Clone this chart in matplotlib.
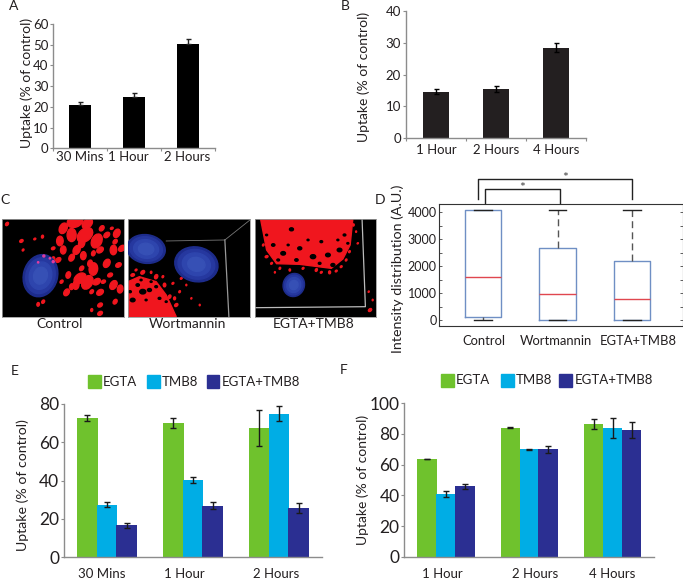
import matplotlib
matplotlib.use('Agg')
import matplotlib.pyplot as plt
from matplotlib.patches import Ellipse, Polygon, Rectangle
from matplotlib.transforms import ScaledTranslation

plt.rcParams['font.family'] = ['Lato', 'DejaVu Sans']

W, H = 683, 580
TXT = '#231f20'
AXC = '#8c8c8c'
GREEN, CYAN, NAVY = '#6fc22d', '#00ade5', '#2b2f92'

# panel A
a_labels = ['30 Mins', '1 Hour', '2 Hours']
a_vals = [20.8, 25, 50.3]
a_err = [1.5, 1.6, 2.4]

# panel B
b_labels = ['1 Hour', '2 Hours', '4 Hours']
b_vals = [14.7, 15.5, 28.4]
b_err = [0.7, 0.8, 1.4]

# panel D (box stats)
d_labels = ['Control', 'Wortmannin', 'EGTA+TMB8']
d_q1 = [110, 0, 0]
d_med = [1600, 970, 780]
d_q3 = [4100, 2660, 2180]
d_lo = [0, 0, 0]
d_hi = [4100, 4100, 4100]

# panel E
e_labels = ['30 Mins', '1 Hour', '2 Hours']
e_egta = [72.5, 70, 67.5]
e_tmb8 = [27.5, 40.3, 75]
e_both = [16.7, 26.8, 25.7]
e_egta_err = [1.6, 2.5, 9.5]
e_tmb8_err = [1.2, 1.6, 4]
e_both_err = [1.3, 1.8, 2.4]

# panel F
f_labels = ['1 Hour', '2 Hours', '4 Hours']
f_egta = [63.5, 84, 86.5]
f_tmb8 = [41, 70, 84]
f_both = [46, 70, 82.5]
f_egta_err = [0.1, 0.3, 3.5]
f_tmb8_err = [1.8, 0.5, 6.5]
f_both_err = [1.7, 2.2, 5]

# micrograph spots in panel C: x, y, radius
c1_spots = [(225, 110, 22), (262, 116, 16), (190, 130, 15), (215, 150, 18), (255, 150, 24), (290, 168, 20),
            (180, 168, 13), (320, 150, 9), (350, 145, 12), (340, 195, 13), (365, 190, 10), (230, 195, 13),
            (190, 195, 11), (175, 225, 8), (215, 218, 10), (250, 212, 11), (300, 195, 10), (320, 235, 12),
            (280, 252, 17), (240, 280, 18), (262, 292, 20), (228, 300, 12), (290, 290, 11), (340, 300, 13),
            (360, 312, 11), (300, 322, 10), (200, 322, 10), (215, 305, 8), (300, 360, 7), (345, 350, 7),
            (275, 375, 4), (300, 385, 7), (130, 350, 5), (115, 358, 5), (65, 168, 5), (70, 195, 3),
            (128, 155, 4), (105, 162, 3), (22, 117, 5), (160, 222, 6), (355, 240, 8), (305, 130, 8),
            (270, 235, 9), (330, 270, 7), (245, 250, 7), (205, 270, 9), (310, 290, 6), (275, 320, 6),
            (245, 175, 12), (160, 190, 5), (345, 170, 7), (280, 205, 7), (335, 130, 4), (185, 290, 5)]
c2_spots = [(400, 270, 5), (430, 262, 6), (470, 275, 6), (495, 300, 5), (520, 295, 3), (540, 320, 3),
            (560, 300, 2), (545, 280, 3), (575, 340, 2), (600, 360, 2), (530, 360, 5), (510, 335, 5),
            (455, 262, 3), (410, 255, 3), (490, 275, 3), (525, 340, 4)]
c2_holes = [(430, 320, 9), (450, 315, 6), (400, 345, 7), (480, 340, 4), (415, 300, 5), (470, 305, 4),
            (500, 350, 3), (440, 345, 3), (392, 320, 4), (455, 290, 3), (425, 285, 3)]
c3_spots = [(800, 215, 4), (815, 235, 3), (840, 250, 3), (870, 255, 3), (910, 250, 3), (950, 255, 4),
            (990, 262, 4), (1025, 245, 3), (1050, 200, 3), (1070, 140, 2), (1075, 175, 2), (1108, 320, 2),
            (1120, 345, 2), (1112, 375, 5), (790, 180, 3), (825, 262, 2), (965, 262, 3), (1040, 225, 3),
            (1062, 120, 3), (1010, 258, 3)]
c3_holes = [(875, 133, 6), (820, 180, 5), (850, 205, 7), (900, 190, 6), (940, 215, 8), (985, 210, 7),
            (1020, 195, 7), (965, 170, 4), (1035, 150, 4), (890, 225, 5), (1000, 240, 6), (800, 150, 3),
            (865, 180, 3), (925, 165, 3), (1045, 175, 3), (960, 235, 4), (835, 225, 4), (1015, 165, 3)]


def px_axes(left, top, right, bottom):
    return fig.add_axes([left / W, 1 - bottom / H, (right - left) / W, (bottom - top) / H])


def shift_labels(ax, offsets):
    for lab, dx in zip(ax.get_xticklabels(), offsets):
        lab.set_transform(lab.get_transform() + ScaledTranslation(dx / 100, 0, fig.dpi_scale_trans))


def style_excel(ax, n, labels, ymax, step, xsize, ysize, pad):
    ax.set_xlim(-0.5, n - 0.5)
    ax.set_ylim(0, ymax)
    ax.set_yticks(range(0, ymax + 1, step))
    ax.set_xticks(range(n))
    ax.set_xticklabels(labels, fontsize=xsize, color=TXT)
    ax.set_xticks([i - 0.5 for i in range(n + 1)], minor=True)
    ax.tick_params(axis='x', which='major', length=0, pad=pad)
    ax.tick_params(axis='x', which='minor', length=2, color=AXC, width=0.8)
    ax.tick_params(axis='y', length=2.5, color=AXC, width=0.8, labelsize=ysize, labelcolor=TXT, pad=1)
    for s in ['top', 'right']:
        ax.spines[s].set_visible(False)
    for s in ['left', 'bottom']:
        ax.spines[s].set_color(AXC)
        ax.spines[s].set_linewidth(1)


def ylabel(x, y, size):
    fig.text(x / W, 1 - y / H, 'Uptake (% of control)', rotation=90, ha='center', va='center',
             fontsize=size, color=TXT)


def grouped(ax, vals, errs, width):
    for k, (v, e, c) in enumerate(zip(vals, errs, [GREEN, CYAN, NAVY])):
        xs = [i + (k - 1) * width for i in range(len(v))]
        ax.bar(xs, v, width=width * 1.03, color=c, zorder=2)
        ax.errorbar(xs, v, yerr=e, fmt='none', ecolor='#1a1a1a', elinewidth=1, capsize=2.2, capthick=1, zorder=3)


def legend_row(items, y0, y1, size):
    for x0, x1, c, name in items:
        fig.patches.append(Rectangle((x0 / W, 1 - y1 / H), (x1 - x0) / W, (y1 - y0) / H, color=c,
                                     transform=fig.transFigure, figure=fig))
        fig.text((x1 + 2) / W, 1 - (y0 + y1) / 2 / H, name, fontsize=size, color=TXT, va='center')


def micrograph(left, right, xlim, spots, holes=(), poly=None):
    ax = px_axes(left, 219.3, right, 316.7)
    ax.set_facecolor('black')
    ax.set_xlim(*xlim)
    ax.set_ylim(395, 103)
    ax.set_xticks([])
    ax.set_yticks([])
    for s in ax.spines.values():
        s.set_color('#9a9a9a')
        s.set_linewidth(0.6)
    red = '#f0161e'
    if poly:
        ax.add_patch(Polygon(poly, color=red, zorder=1))
    for i, (x, y, r) in enumerate(spots):
        ax.add_patch(Ellipse((x, y), 2.2 * r, 1.5 * r, angle=-20 - (i * 23) % 70, color=red, zorder=1))
    for x, y, r in holes:
        ax.add_patch(Ellipse((x, y), 2 * r, 1.5 * r, color='black', zorder=2))
    return ax


def nucleus(ax, x, y, w, h, ang):
    for f, c in [(1, '#1d2c8c'), (0.85, '#26389f'), (0.65, '#2e45ad'), (0.4, '#3650b5')]:
        ax.add_patch(Ellipse((x, y), w * f, h * f, angle=ang, color=c, zorder=4))


fig = plt.figure(figsize=(W / 100, H / 100), dpi=100)

# A
ax = px_axes(53.3, 24, 215, 148.3)
ax.bar(range(3), a_vals, width=0.4, color='black', zorder=2)
ax.errorbar(range(3), a_vals, yerr=[[0, 0, 0], a_err], fmt='none', ecolor='#222222', elinewidth=1, capsize=1.8)
style_excel(ax, 3, a_labels, 60, 10, 9.5, 9.5, 2)
shift_labels(ax, [0, -6, -1])
ylabel(27, 83, 10)

# B
ax = px_axes(406, 11, 586, 138.3)
ax.bar(range(3), b_vals, width=0.42, color='#231f20', zorder=2)
ax.errorbar(range(3), b_vals, yerr=b_err, fmt='none', ecolor='black', elinewidth=1, capsize=1.8, zorder=3)
style_excel(ax, 3, b_labels, 40, 10, 9.5, 9.5, 4)
ylabel(364, 77, 10)

# C
ax = micrograph(2, 123.5, (7, 370), c1_spots)
nucleus(ax, 122, 272, 102, 128, 15)
for x, y, r in [(132, 213, 3), (160, 230, 3), (115, 232, 2), (150, 220, 2)]:
    ax.add_patch(Ellipse((x, y), 2 * r, 2 * r, color='#e03ca0', zorder=5))

ax = micrograph(128, 250, (386, 750), c2_spots, c2_holes,
                [(386, 395), (386, 290), (420, 275), (470, 290), (500, 330), (530, 395)])
ax.plot([500, 675, 750], [168, 165, 105], color='#777777', lw=0.6)
ax.plot([675, 687], [165, 395], color='#999999', lw=0.9)
nucleus(ax, 440, 192, 115, 86, 8)
nucleus(ax, 590, 238, 130, 104, 12)

ax = micrograph(255, 376, (765, 1130), c3_spots, c3_holes,
                [(782, 103), (1060, 103), (1052, 180), (1030, 222), (995, 250), (900, 238), (830, 236), (800, 195)])
ax.plot([1088, 1098, 765], [103, 365, 368], color='#bbbbbb', lw=0.9)
nucleus(ax, 882, 300, 64, 70, 20)

for x, name in zip([60, 187, 314], d_labels):
    fig.text(x / W, 1 - 324 / H, name, ha='center', va='center', fontsize=10, color=TXT)

# D
ax = px_axes(439.3, 204.3, 682.7, 326.3)
stats = [dict(med=m, q1=q1, q3=q3, whislo=lo, whishi=hi, fliers=[])
         for m, q1, q3, lo, hi in zip(d_med, d_q1, d_q3, d_lo, d_hi)]
ax.bxp(stats, positions=[1, 2, 3], widths=0.49, showfliers=False,
       boxprops=dict(color='#6f8fc4', lw=1), medianprops=dict(color='#e0474f', lw=1),
       whiskerprops=dict(color='#555555', lw=1, ls=(0, (5, 3))), capprops=dict(color='#222222', lw=1),
       capwidths=0.24)
ax.set_xlim(0.413, 3.68)
ax.set_ylim(-222, 4296)
ax.set_yticks(range(0, 4001, 1000))
ax.set_yticks(range(500, 4000, 1000), minor=True)
ax.set_xticks([1, 2, 3])
ax.set_xticklabels(d_labels, fontsize=9.4, color=TXT)
ax.tick_params(axis='y', which='both', direction='in', length=2.5, right=True, color='#444444', width=0.6,
               labelsize=9, labelcolor=TXT, pad=2)
ax.tick_params(axis='x', direction='in', length=0, pad=6)
shift_labels(ax, [1, -2, 6])
for s in ax.spines.values():
    s.set_color('#333333')
    s.set_linewidth(0.8)
fig.text(398 / W, 1 - 269 / H, 'Intensity distribution (A.U.)', rotation=90, ha='center', va='center',
         fontsize=10.3, color=TXT)

# significance brackets
overlay = fig.add_axes([0, 0, 1, 1], facecolor='none')
overlay.set_xlim(0, W)
overlay.set_ylim(H, 0)
overlay.axis('off')
overlay.plot([477.7, 477.7, 632, 632], [199.3, 179.3, 179.3, 199.3], color='#222222', lw=1)
overlay.plot([485, 485, 559.7, 559.7], [202.7, 189, 189, 202.7], color='#222222', lw=1)
overlay.text(565, 178, '*', ha='center', va='center', fontsize=10, color='#444444')
overlay.text(522, 187.5, '*', ha='center', va='center', fontsize=10, color='#444444')

# E
ax = px_axes(64, 404, 322, 557.3)
grouped(ax, [e_egta, e_tmb8, e_both], [e_egta_err, e_tmb8_err, e_both_err], 0.227)
style_excel(ax, 3, e_labels, 80, 20, 9.5, 12.5, 8)
ax.tick_params(axis='x', which='minor', length=0)
shift_labels(ax, [-5, -9, -3])
ylabel(23, 485, 10.2)
legend_row([(88, 101, GREEN, 'EGTA'), (146.7, 160, CYAN, 'TMB8'), (206.7, 219.3, NAVY, 'EGTA+TMB8')], 375, 388, 9.5)

# F
ax = px_axes(404.3, 403.3, 654.3, 556.7)
grouped(ax, [f_egta, f_tmb8, f_both], [f_egta_err, f_tmb8_err, f_both_err], 0.227)
style_excel(ax, 3, f_labels, 100, 20, 9.5, 12.5, 8)
ax.tick_params(axis='x', which='minor', length=0)
shift_labels(ax, [-4, 6, 0])
ylabel(363, 480, 10)
legend_row([(441, 454, GREEN, 'EGTA'), (500.7, 514, CYAN, 'TMB8'), (559.3, 572.3, NAVY, 'EGTA+TMB8')], 374, 386.7, 9.5)

# panel letters
for name, x, y in [('A', 14, 6), ('B', 345, 6), ('C', 5, 200), ('D', 380, 200), ('E', 15, 371), ('F', 344, 370)]:
    fig.text(x / W, 1 - y / H, name, ha='center', va='center', fontsize=10, color=TXT)

fig.savefig('out.png', dpi=100)
